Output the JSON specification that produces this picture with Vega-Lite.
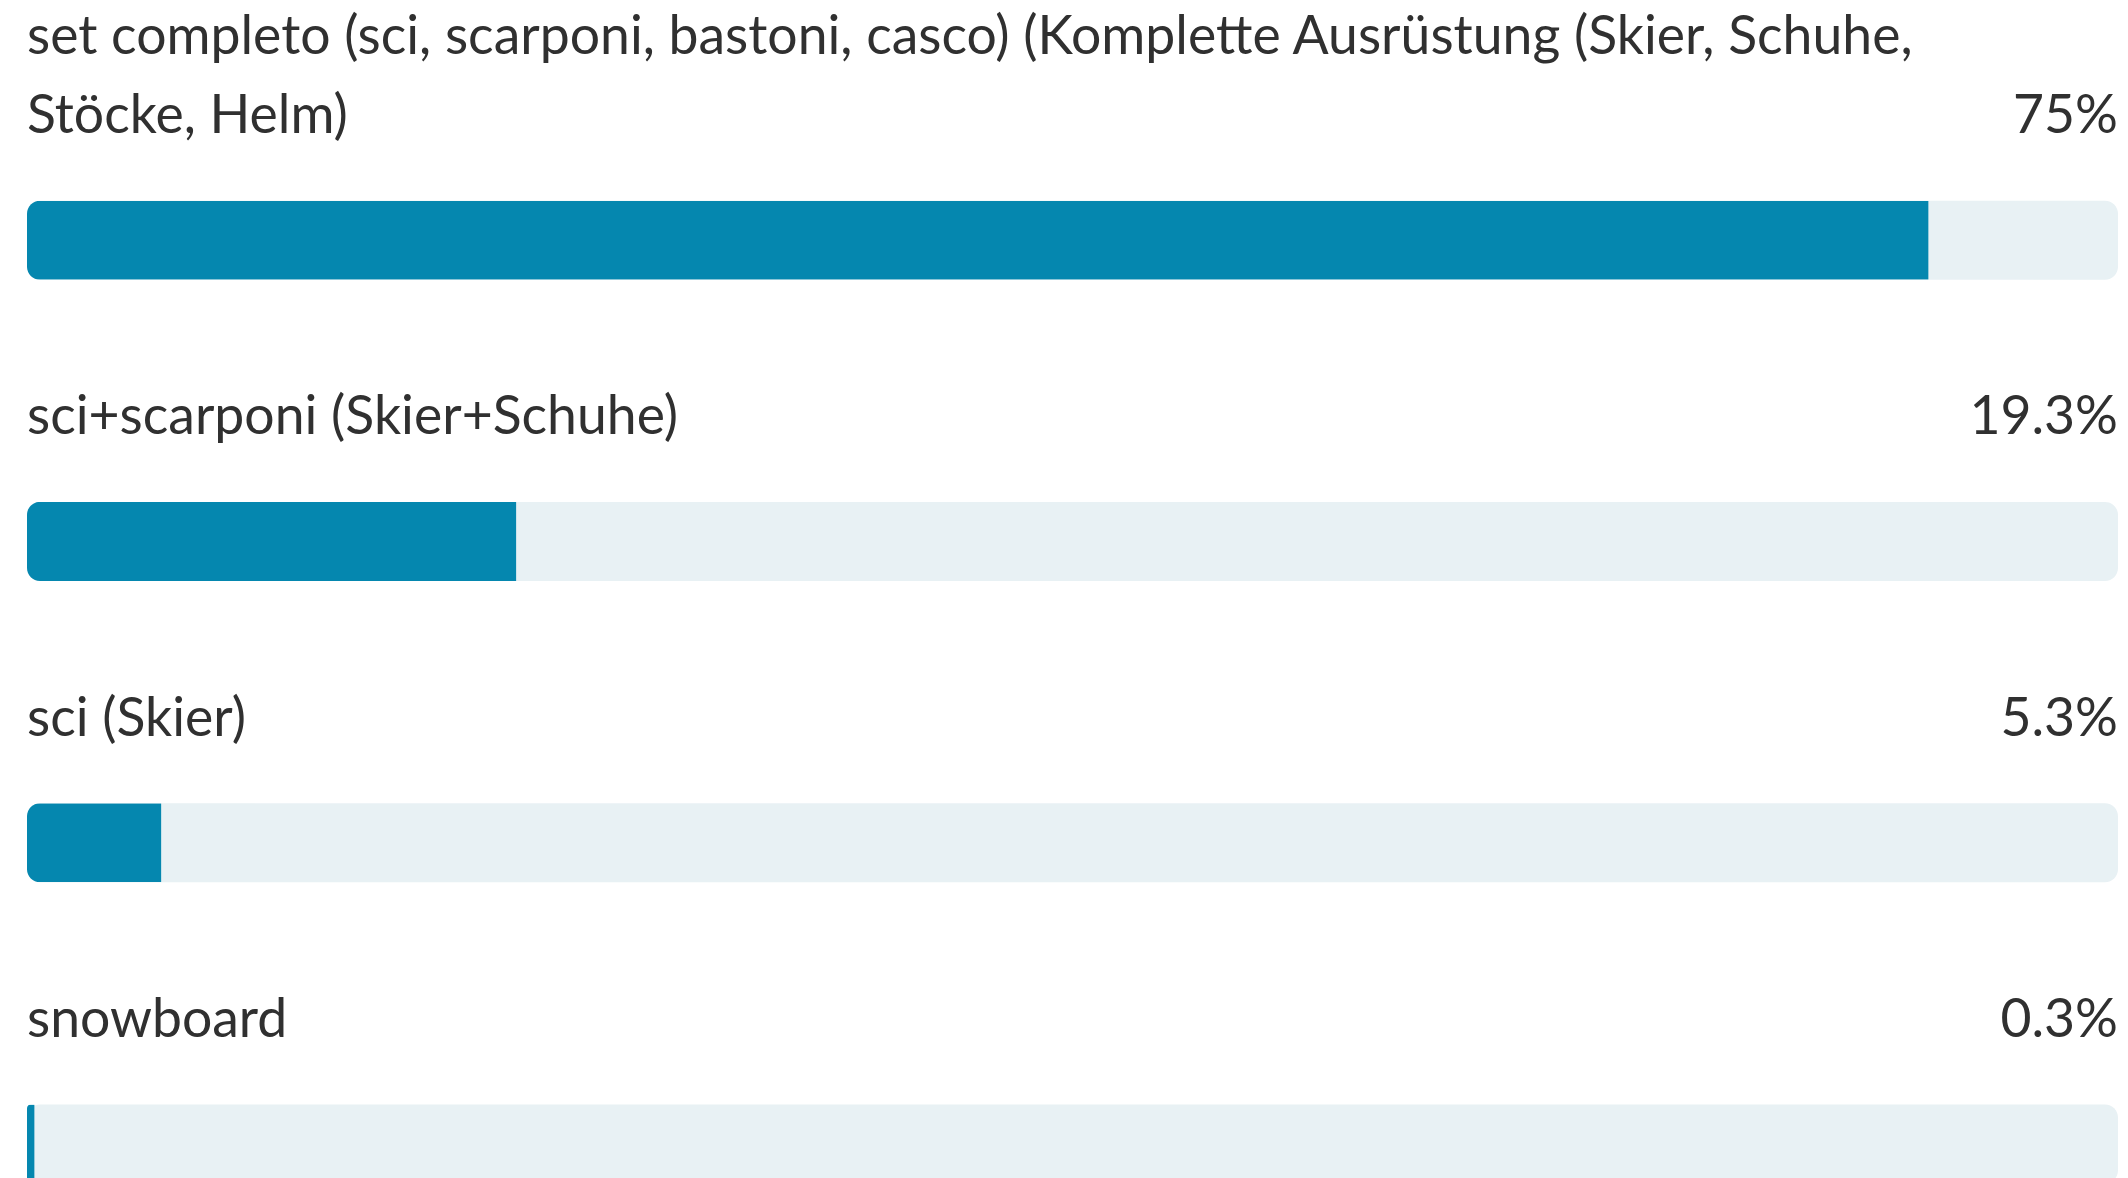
{
  "$schema": "https://vega.github.io/schema/vega-lite/v6.json",
  "width": 2091,
  "height": 1205,
  "autosize": {"type": "none"},
  "padding": {"left": 27, "top": 89.5, "right": 10, "bottom": 0},
  "background": "white",
  "config": {"view": {"stroke": null}},
  "data": {
    "values": [
      {"upper": "set completo (sci, scarponi, bastoni, casco) (Komplette Ausrüstung (Skier, Schuhe,", "label": "Stöcke, Helm)", "share": 0.75},
      {"upper": "", "label": "sci+scarponi (Skier+Schuhe)", "share": 0.193},
      {"upper": "", "label": "sci (Skier)", "share": 0.053},
      {"upper": "", "label": "snowboard", "share": 0.003}
    ]
  },
  "encoding": {
    "y": {"field": "label", "type": "nominal", "sort": null, "axis": null,
          "scale": {"paddingInner": 0, "paddingOuter": 0}}
  },
  "layer": [
    {
      "mark": {"type": "bar", "color": "#E8F1F4", "height": 79, "cornerRadius": 13},
      "encoding": {
        "x": {"datum": 0, "type": "quantitative", "axis": null,
              "scale": {"domain": [0, 0.8247], "nice": false, "zero": true}},
        "x2": {"datum": 0.8247}
      }
    },
    {
      "mark": {"type": "bar", "color": "#0587AF", "height": 79,
               "cornerRadiusTopLeft": 13, "cornerRadiusBottomLeft": 13},
      "encoding": {
        "x": {"field": "share", "type": "quantitative", "axis": null,
              "scale": {"domain": [0, 0.8247], "nice": false, "zero": true}}
      }
    },
    {
      "mark": {"type": "text", "align": "left", "baseline": "bottom", "dy": -96,
               "font": "Lato", "fontSize": 53.5, "color": "#303030"},
      "encoding": {
        "x": {"value": 0},
        "text": {"field": "label"}
      }
    },
    {
      "mark": {"type": "text", "align": "left", "baseline": "bottom", "dy": -174.7,
               "font": "Lato", "fontSize": 53.5, "color": "#303030"},
      "encoding": {
        "x": {"value": 0},
        "text": {"field": "upper"}
      }
    },
    {
      "mark": {"type": "text", "align": "right", "baseline": "bottom", "dy": -96,
               "font": "Lato", "fontSize": 53.5, "color": "#303030"},
      "encoding": {
        "x": {"value": "width"},
        "text": {"field": "share", "format": ".1~%"}
      }
    }
  ]
}
